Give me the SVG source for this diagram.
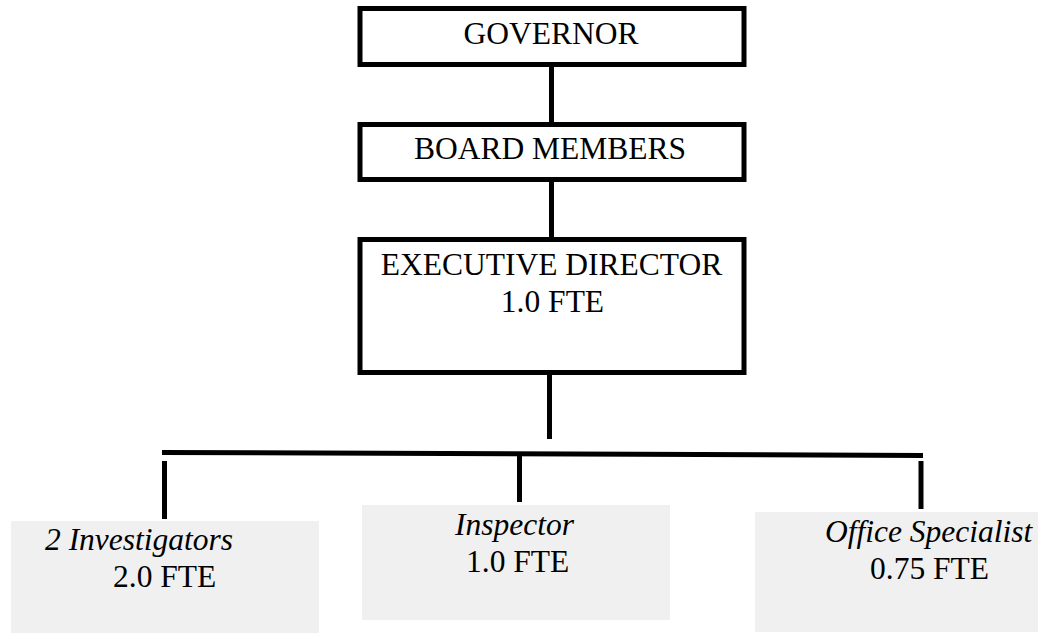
<svg xmlns="http://www.w3.org/2000/svg" width="1042" height="633" viewBox="0 0 1042 633">
<style>
.box{fill:#ffffff;stroke:#000000;stroke-width:5}
.gbox{fill:#f0f0f0;stroke:none}
.t{font-family:"Liberation Serif","Times New Roman",serif;font-size:31.5px;fill:#000000}
.c{text-anchor:middle}
.i{font-style:italic}
.ln{stroke:#000000;stroke-width:5;fill:none}
</style>
<rect width="1042" height="633" fill="#ffffff"/>
<g id="connectors">
<line class="ln" x1="551.5" y1="66" x2="551.5" y2="123"/>
<line class="ln" x1="551.5" y1="181" x2="551.5" y2="238"/>
<line class="ln" x1="549.5" y1="368" x2="549.5" y2="439"/>
<line class="ln" x1="162" y1="452.5" x2="923" y2="455.5"/>
<line class="ln" x1="164.5" y1="461" x2="164.5" y2="519"/>
<line class="ln" x1="519.5" y1="455" x2="519.5" y2="502"/>
<line class="ln" x1="921" y1="461" x2="921" y2="509"/>
</g>
<g id="governor">
<rect class="box" x="360" y="8.5" width="384" height="56"/>
<text class="t c" x="551" y="43.5">GOVERNOR</text>
</g>
<g id="board-members">
<rect class="box" x="360" y="124.5" width="384" height="55"/>
<text class="t c" x="550" y="158.5">BOARD MEMBERS</text>
</g>
<g id="executive-director">
<rect class="box" x="360" y="239.5" width="384" height="133"/>
<text class="t c" x="551.5" y="275">EXECUTIVE DIRECTOR</text>
<text class="t c" x="552.5" y="312">1.0 FTE</text>
</g>
<g id="investigators">
<rect class="gbox" x="11" y="521" width="308" height="112"/>
<text class="t i" x="45" y="550">2 Investigators</text>
<text class="t" x="113" y="587">2.0 FTE</text>
</g>
<g id="inspector">
<rect class="gbox" x="362" y="505" width="308" height="115"/>
<text class="t i" x="455" y="535">Inspector</text>
<text class="t" x="466" y="572">1.0 FTE</text>
</g>
<g id="office-specialist">
<rect class="gbox" x="755" y="512" width="283" height="120"/>
<text class="t i" x="825" y="542">Office Specialist</text>
<text class="t" x="870" y="579">0.75 FTE</text>
</g>
</svg>
